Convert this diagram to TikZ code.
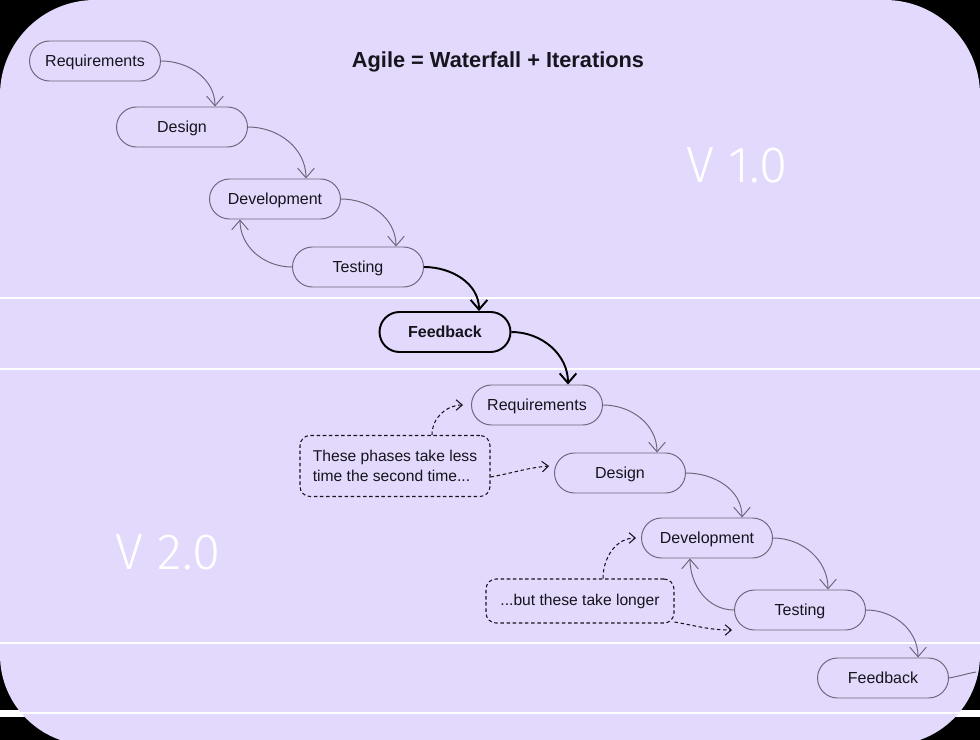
\documentclass[tikz,border=0pt]{standalone}
\usepackage{fontspec}
\setmainfont{Liberation Sans}
\newfontfamily\thinfont{Fira Sans Light}
\usetikzlibrary{arrows.meta}
\definecolor{lav_bg}{RGB}{227,217,252}
\definecolor{pill_line}{RGB}{108,102,122}
\definecolor{ink}{RGB}{22,20,28}

\tikzset{
  phase/.style={draw=pill_line, line width=0.55pt, rounded corners=0.4cm, minimum width=2.62cm, minimum height=0.8cm, text height=6.6pt, text depth=0pt, text=ink, font=\fontsize{9.1}{10}\selectfont},
  phasebold/.style={phase, draw=black, line width=1.1pt, font=\fontsize{9.1}{10}\selectfont\bfseries},
  flow/.style={draw=pill_line, line width=0.55pt, -{Straight Barb[length=5.5pt,width=9.5pt]}},
  flowbold/.style={draw=black, line width=1.1pt, -{Straight Barb[length=5.5pt,width=9.5pt]}},
  note/.style={draw=ink, dash pattern=on 2pt off 1.5pt, line width=0.6pt, rounded corners=0.2cm, align=left, text=ink, font=\fontsize{8.9}{11.3}\selectfont},
  noteflow/.style={draw=ink, dash pattern=on 2pt off 1.5pt, line width=0.6pt, -{Straight Barb[length=3.5pt,width=6pt]}},
  divider/.style={white, line width=0.6pt},
  vlabel/.style={text=white, font=\thinfont\fontsize{29}{30}\selectfont}
}

\begin{document}
\begin{tikzpicture}[x=0.02cm, y=-0.02cm]

      % 1. Fondo
      \useasboundingbox (0,0) rectangle (980,740);
      \fill[black] (0,0) rectangle (980,740);
      \fill[white] (0,710) rectangle (980,717);
      \fill[lav_bg, rounded corners=1.9cm] (0,0) rectangle (980,500);
      \fill[lav_bg, rounded corners=1.8cm] (0,300) rectangle (980,745);
      \draw[divider] (0,298) -- (980,298);
      \draw[divider] (0,369) -- (980,369);
      \draw[divider] (0,643) -- (980,643);
      \draw[divider] (0,713) -- (980,713);

      % 2. Titulo y versiones
      \node[text=ink, font=\fontsize{12.4}{14}\selectfont\bfseries] (title) at (498,62) {Agile = Waterfall + Iterations};
      \node[vlabel] (vone) at (737,165) {V 1.0};
      \node[vlabel] (vtwo) at (168,552) {V 2.0};

      % 3. Fases V 1.0
      \node[phase] (req1) at (95,61) {Requirements};
      \node[phase] (des1) at (182,127) {Design};
      \node[phase] (dev1) at (275,199) {Development};
      \node[phase] (tst1) at (358,267) {Testing};
      \node[phasebold] (fb1) at (445,332) {Feedback};

      % 4. Fases V 2.0
      \node[phase] (req2) at (537,405) {Requirements};
      \node[phase] (des2) at (620,473) {Design};
      \node[phase] (dev2) at (707,538) {Development};
      \node[phase] (tst2) at (800,610) {Testing};
      \node[phase] (fb2) at (883,678) {Feedback};
      \coordinate (offpage) at (976,672);

      % 5. Notas
      \node[note, minimum width=3.8cm, minimum height=1.22cm] (note1) at (395,466) {These phases take less\\time the second time...};
      \node[note, minimum width=3.76cm, minimum height=0.88cm] (note2) at (580,601) {...but these take longer};

      % 6. Flechas
      \draw[flow] (req1.east) to[out=0, in=90] ([xshift=0.66cm]des1.north);
      \draw[flow] (des1.east) to[out=0, in=90] ([xshift=0.62cm]dev1.north);
      \draw[flow] (dev1.east) to[out=0, in=90] ([xshift=0.76cm]tst1.north);
      \draw[flow] (tst1.west) to[out=180, in=-90] ([xshift=-0.7cm]dev1.south);
      \draw[flowbold] (tst1.east) to[out=0, in=90] ([xshift=0.68cm]fb1.north);
      \draw[flowbold] (fb1.east) to[out=0, in=90] ([xshift=0.62cm]req2.north);
      \draw[flow] (req2.east) to[out=0, in=90] ([xshift=0.74cm]des2.north);
      \draw[flow] (des2.east) to[out=0, in=90] ([xshift=0.7cm]dev2.north);
      \draw[flow] (dev2.east) to[out=0, in=90] ([xshift=0.56cm]tst2.north);
      \draw[flow] (tst2.west) to[out=180, in=-90] ([xshift=-0.34cm]dev2.south);
      \draw[flow] (tst2.east) to[out=0, in=90] ([xshift=0.7cm]fb2.north);
      \draw[draw=pill_line, line width=0.55pt] (fb2.east) to[out=10, in=190] (offpage);

      \draw[noteflow] ([xshift=0.74cm]note1.north) to[out=90, in=180] ([xshift=-0.16cm]req2.west);
      \draw[noteflow] ([yshift=-0.22cm]note1.east) to[out=10, in=185] ([xshift=-0.1cm, yshift=0.14cm]des2.west);
      \draw[noteflow] ([xshift=0.46cm]note2.north) to[out=90, in=180] ([xshift=-0.1cm]dev2.west);
      \draw[noteflow] ([yshift=-0.42cm]note2.east) to[out=-10, in=180] ([xshift=-0.04cm, yshift=-0.4cm]tst2.west);

\end{tikzpicture}
\end{document}
